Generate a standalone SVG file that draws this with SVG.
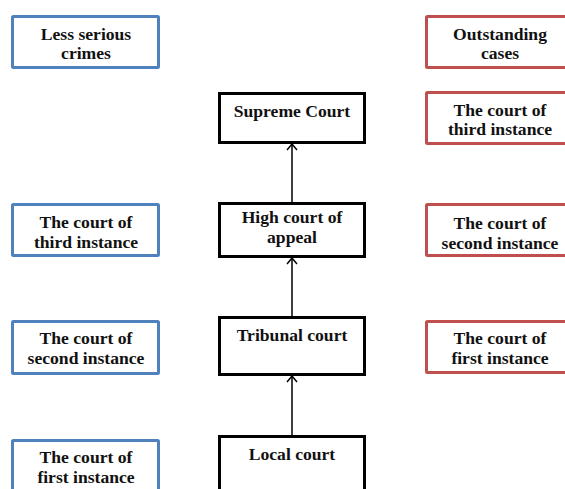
<svg xmlns="http://www.w3.org/2000/svg" width="565" height="489" viewBox="0 0 565 489">
<defs>
<style>
.blue{fill:#fff;stroke:#4f81bd;stroke-width:3}
.red{fill:#fff;stroke:#c0504d;stroke-width:3}
.blk{fill:#fff;stroke:#000;stroke-width:3}
text{font-family:"Liberation Serif","Times New Roman",serif;font-weight:bold;font-size:17.6px;fill:#111;text-anchor:middle}
.conn{stroke:#000;stroke-width:1.5;fill:none}
</style>
<marker id="arr" viewBox="0 0 12 12" refX="11" refY="6" markerWidth="12" markerHeight="12" markerUnits="userSpaceOnUse" orient="auto">
<path d="M5,1 L11,6 L5,11" fill="none" stroke="#000" stroke-width="1.5"/>
</marker>
</defs>
<rect width="565" height="489" fill="#fff"/>
<g id="connectors">
<line class="conn" x1="292" y1="202" x2="292" y2="144" marker-end="url(#arr)"/>
<line class="conn" x1="292" y1="316" x2="292" y2="258" marker-end="url(#arr)"/>
<line class="conn" x1="292" y1="435" x2="292" y2="376" marker-end="url(#arr)"/>
</g>
<g id="less-serious">
<rect class="blue" x="12.5" y="16.5" width="146" height="51" rx="1"/>
<text x="86" y="40">Less serious</text><text x="86" y="59">crimes</text>
</g>
<g id="blue-third">
<rect class="blue" x="12.5" y="204.5" width="146" height="51" rx="1"/>
<text x="86" y="228">The court of</text><text x="86" y="248">third instance</text>
</g>
<g id="blue-second">
<rect class="blue" x="12.5" y="321.5" width="146" height="52" rx="1"/>
<text x="86" y="344">The court of</text><text x="86" y="364">second instance</text>
</g>
<g id="blue-first">
<rect class="blue" x="12.5" y="440.5" width="146" height="60" rx="1"/>
<text x="86" y="463">The court of</text><text x="86" y="483">first instance</text>
</g>
<g id="outstanding">
<rect class="red" x="426.5" y="16.5" width="148" height="51" rx="1"/>
<text x="500" y="40">Outstanding</text><text x="500" y="59">cases</text>
</g>
<g id="red-third">
<rect class="red" x="426.5" y="92.5" width="148" height="51" rx="1"/>
<text x="500" y="116">The court of</text><text x="500" y="135">third instance</text>
</g>
<g id="red-second">
<rect class="red" x="426.5" y="204.5" width="148" height="51" rx="1"/>
<text x="500" y="229">The court of</text><text x="500" y="249">second instance</text>
</g>
<g id="red-first">
<rect class="red" x="426.5" y="321.5" width="148" height="51" rx="1"/>
<text x="500" y="344">The court of</text><text x="500" y="364">first instance</text>
</g>
<g id="supreme">
<rect class="blk" x="219.5" y="93.5" width="145" height="49"/>
<text x="292" y="117">Supreme Court</text>
</g>
<g id="high">
<rect class="blk" x="219.5" y="203.5" width="145" height="53"/>
<text x="292" y="223">High court of</text><text x="292" y="243">appeal</text>
</g>
<g id="tribunal">
<rect class="blk" x="219.5" y="317.5" width="145" height="57"/>
<text x="292" y="341">Tribunal court</text>
</g>
<g id="local">
<rect class="blk" x="219.5" y="436.5" width="145" height="60"/>
<text x="292" y="460">Local court</text>
</g>
</svg>
